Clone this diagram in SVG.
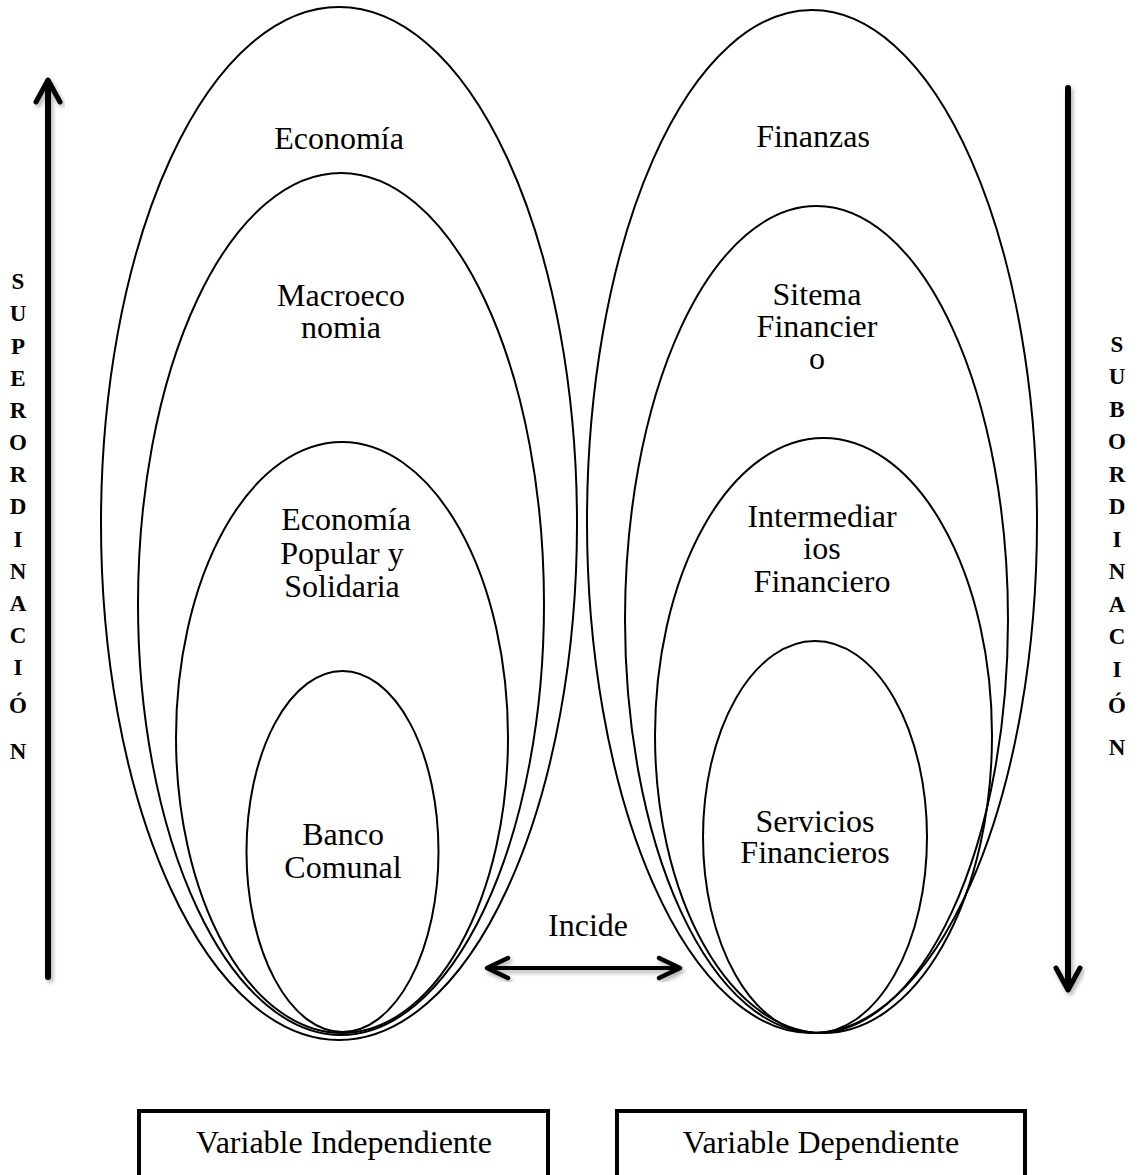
<svg xmlns="http://www.w3.org/2000/svg" width="1144" height="1175" viewBox="0 0 1144 1175">
  <defs>
    <filter id="shadow" x="-20%" y="-20%" width="140%" height="140%">
      <feDropShadow dx="2" dy="3" stdDeviation="2" flood-color="#000" flood-opacity="0.3"/>
    </filter>
    <style>
      .set { fill: none; stroke: #000; stroke-width: 2; }
      .lbl { font-family: "Liberation Serif", "Times New Roman", serif; font-size: 32px; fill: #000; text-anchor: middle; }
      .vert { font-family: "Liberation Serif", "Times New Roman", serif; font-size: 23px; font-weight: bold; fill: #000; text-anchor: middle; }
      .arrow { fill: none; stroke: #000; stroke-linecap: round; stroke-linejoin: round; }
      .box { fill: #fff; stroke: #000; stroke-width: 4; }
    </style>
  </defs>
  <rect width="1144" height="1175" fill="#fff"/>

  <!-- independent variable: nested sets -->
  <g id="economia">
    <ellipse class="set" cx="339" cy="523.5" rx="238" ry="516.5"/>
    <text class="lbl" x="339" y="149">Economía</text>
  </g>
  <g id="macroeconomia">
    <ellipse class="set" cx="341" cy="604" rx="203" ry="431"/>
    <text class="lbl" x="341" y="306">Macroeco</text>
    <text class="lbl" x="341" y="338">nomia</text>
  </g>
  <g id="economia-popular">
    <ellipse class="set" cx="342" cy="737.5" rx="166" ry="295.5"/>
    <text class="lbl" x="346" y="530">Economía</text>
    <text class="lbl" x="342" y="564">Popular y</text>
    <text class="lbl" x="342" y="597">Solidaria</text>
  </g>
  <g id="banco-comunal">
    <ellipse class="set" cx="342.5" cy="851.5" rx="96" ry="180.5"/>
    <text class="lbl" x="343" y="845">Banco</text>
    <text class="lbl" x="343" y="878">Comunal</text>
  </g>

  <!-- dependent variable: nested sets -->
  <g id="finanzas">
    <ellipse class="set" cx="812" cy="521.5" rx="225" ry="511.5"/>
    <text class="lbl" x="813" y="147">Finanzas</text>
  </g>
  <g id="sistema-financiero">
    <ellipse class="set" cx="816.5" cy="619.5" rx="191.5" ry="413.5"/>
    <text class="lbl" x="817" y="305">Sitema</text>
    <text class="lbl" x="817" y="337">Financier</text>
    <text class="lbl" x="817" y="369">o</text>
  </g>
  <g id="intermediarios">
    <ellipse class="set" cx="823.5" cy="735.5" rx="168.5" ry="297.5"/>
    <text class="lbl" x="822" y="527">Intermediar</text>
    <text class="lbl" x="822" y="559">ios</text>
    <text class="lbl" x="822" y="592">Financiero</text>
  </g>
  <g id="servicios">
    <ellipse class="set" cx="815" cy="837" rx="112" ry="196"/>
    <text class="lbl" x="815" y="832">Servicios</text>
    <text class="lbl" x="815" y="863">Financieros</text>
  </g>

  <!-- connectors -->
  <g id="connectors">
    <g id="superordinacion-arrow" filter="url(#shadow)">
      <line class="arrow" x1="48" y1="82" x2="48" y2="977" stroke-width="6" stroke-linecap="butt"/>
      <polyline class="arrow" points="36,102 48,80 60,102" stroke-width="5"/>
    </g>
    <g id="subordinacion-arrow" filter="url(#shadow)">
      <line class="arrow" x1="1068" y1="88" x2="1068" y2="986" stroke-width="6" stroke-linecap="butt"/>
      <polyline class="arrow" points="1056,968 1068,990 1080,968" stroke-width="5"/>
    </g>
    <g id="incide-arrow" filter="url(#shadow)">
      <line class="arrow" x1="490" y1="968" x2="677" y2="968" stroke-width="4"/>
      <polyline class="arrow" points="508,958 487,968 508,978" stroke-width="4.5"/>
      <polyline class="arrow" points="659,958 680,968 659,978" stroke-width="4.5"/>
    </g>
    <text class="lbl" x="588" y="936">Incide</text>
  </g>

  <!-- side captions -->
  <g id="superordinacion">
    <text class="vert" x="18" y="289">S</text>
    <text class="vert" x="18" y="321">U</text>
    <text class="vert" x="18" y="354">P</text>
    <text class="vert" x="18" y="386">E</text>
    <text class="vert" x="18" y="418">R</text>
    <text class="vert" x="18" y="450">O</text>
    <text class="vert" x="18" y="482">R</text>
    <text class="vert" x="18" y="514">D</text>
    <text class="vert" x="18" y="547">I</text>
    <text class="vert" x="18" y="579">N</text>
    <text class="vert" x="18" y="611">A</text>
    <text class="vert" x="18" y="643">C</text>
    <text class="vert" x="18" y="675">I</text>
    <text class="vert" x="18" y="713">Ó</text>
    <text class="vert" x="18" y="759">N</text>
  </g>
  <g id="subordinacion">
    <text class="vert" x="1117" y="352">S</text>
    <text class="vert" x="1117" y="384">U</text>
    <text class="vert" x="1117" y="417">B</text>
    <text class="vert" x="1117" y="449">O</text>
    <text class="vert" x="1117" y="482">R</text>
    <text class="vert" x="1117" y="514">D</text>
    <text class="vert" x="1117" y="547">I</text>
    <text class="vert" x="1117" y="579">N</text>
    <text class="vert" x="1117" y="612">A</text>
    <text class="vert" x="1117" y="644">C</text>
    <text class="vert" x="1117" y="677">I</text>
    <text class="vert" x="1117" y="713">Ó</text>
    <text class="vert" x="1117" y="755">N</text>
  </g>

  <!-- variable boxes -->
  <g id="variable-independiente">
    <rect class="box" x="139" y="1111" width="409" height="90"/>
    <text class="lbl" x="344" y="1153">Variable Independiente</text>
  </g>
  <g id="variable-dependiente">
    <rect class="box" x="617" y="1111" width="408" height="90"/>
    <text class="lbl" x="821" y="1153">Variable Dependiente</text>
  </g>
</svg>
